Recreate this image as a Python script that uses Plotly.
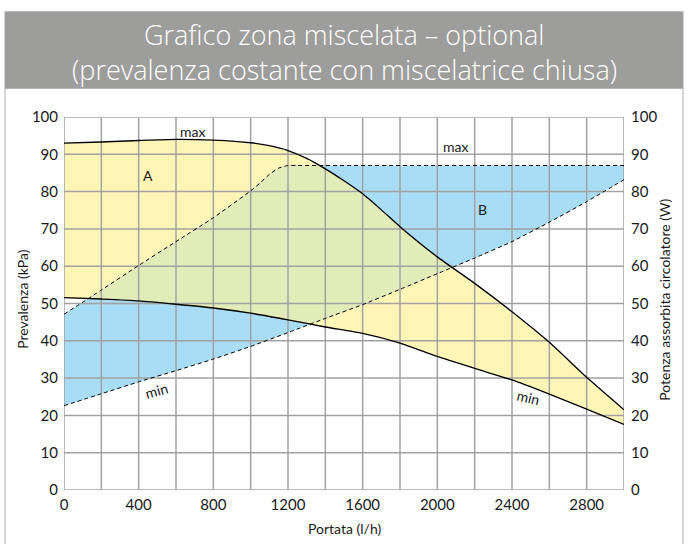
import numpy as np
import plotly.graph_objects as go

# Flow rate (l/h) and curves read on the pump chart
flow_max_head = [0, 200, 400, 600, 800, 1000, 1100, 1200, 1300, 1400, 1500, 1600, 1700, 1800,
                 2000, 2200, 2400, 2600, 2800, 3000]
max_head = [93.0, 93.3, 93.7, 94.0, 93.8, 93.1, 92.3, 91.0, 88.9, 86.1, 82.9, 79.4, 75.1, 70.6,
            62.5, 55.4, 47.8, 39.6, 30.2, 21.5]

flow_min_head = [0, 200, 400, 600, 800, 1000, 1200, 1400, 1600, 1800, 2000, 2200, 2400, 2600,
                 2800, 3000]
min_head = [51.6, 51.2, 50.7, 49.8, 48.8, 47.4, 45.6, 43.7, 42.0, 39.4, 35.8, 32.6, 29.5, 25.7,
            21.7, 17.6]

flow_max_power = [0, 200, 400, 600, 800, 1000, 1050, 1100, 1150, 1200, 1250, 3000]
max_power = [47.1, 53.6, 60.2, 66.6, 73.0, 80.2, 82.3, 84.6, 86.3, 87.0, 87.0, 87.0]

flow_min_power = [0, 200, 400, 600, 800, 1000, 1200, 1400, 1600, 1800, 2000, 2200, 2400, 2600,
                  2800, 3000]
min_power = [22.6, 25.8, 29.0, 32.0, 35.1, 38.5, 42.2, 46.0, 49.7, 53.8, 58.0, 62.2, 66.6, 71.8,
             77.3, 83.2]

x_ticks = [0, 400, 800, 1200, 1600, 2000, 2400, 2800]
x_grid = list(range(0, 3001, 200))
y_ticks = list(range(0, 101, 10))

YELLOW = "#FFF5B6"
BLUE = "#A9DDF6"
GREEN = "#E2ECB8"
GRID = "#A2A2A2"
FONT = "Lato"

curves = [(flow_max_head, max_head), (flow_min_head, min_head),
          (flow_max_power, max_power), (flow_min_power, min_power)]

# common abscissa: every vertex of every curve plus the points where two curves cross
grid = np.unique(np.concatenate([np.asarray(c[0], float) for c in curves]))
vals = [np.interp(grid, c[0], c[1]) for c in curves]
extra = []
for i in range(len(vals)):
    for j in range(i + 1, len(vals)):
        d = vals[i] - vals[j]
        for k in range(len(grid) - 1):
            if d[k] * d[k + 1] < 0:
                t = d[k] / (d[k] - d[k + 1])
                extra.append(grid[k] + t * (grid[k + 1] - grid[k]))
grid = np.unique(np.concatenate([grid, extra]))
hmax, hmin, pmax, pmin = [np.interp(grid, c[0], c[1]) for c in curves]

upper = np.minimum(hmax, pmax)
lower = np.maximum(hmin, pmin)
upper = np.maximum(upper, lower)


def band(lo, hi, color):
    return go.Scatter(x=np.concatenate([grid, grid[::-1]]),
                      y=np.concatenate([hi, lo[::-1]]),
                      fill="toself", fillcolor=color, mode="lines",
                      line=dict(width=0, color=color), hoverinfo="skip",
                      showlegend=False)


fig = go.Figure()
fig.add_trace(band(hmin, hmax, YELLOW))
fig.add_trace(band(pmin, pmax, BLUE))
fig.add_trace(band(lower, upper, GREEN))

# grid drawn over the coloured zones
gx, gy = [], []
for v in x_grid:
    gx += [v, v, None]
    gy += [0, 100, None]
for v in y_ticks:
    gx += [0, 3000, None]
    gy += [v, v, None]
fig.add_trace(go.Scatter(x=gx, y=gy, mode="lines", line=dict(color=GRID, width=1.5),
                         hoverinfo="skip", showlegend=False))

solid = dict(color="black", width=1.3, shape="spline", smoothing=0.6)
dashed = dict(color="black", width=1, dash="4px,3px", shape="spline", smoothing=0.5)
# head curves (kPa)
fig.add_trace(go.Scatter(x=flow_max_head, y=max_head, mode="lines", line=solid,
                         showlegend=False))
fig.add_trace(go.Scatter(x=flow_min_head, y=min_head, mode="lines", line=solid,
                         showlegend=False))
# absorbed power curves (W)
fig.add_trace(go.Scatter(x=flow_max_power, y=max_power, mode="lines", yaxis="y2",
                         line=dashed, showlegend=False))
fig.add_trace(go.Scatter(x=flow_min_power, y=min_power, mode="lines", yaxis="y2",
                         line=dashed, showlegend=False))

tickfont = dict(family=FONT, size=15, color="#1a1a1a")
fig.update_layout(
    width=688, height=544,
    margin=dict(l=64, r=64, t=117, b=54),
    paper_bgcolor="white", plot_bgcolor="white",
    xaxis=dict(range=[0, 3000], tickvals=x_ticks, showgrid=False, zeroline=False,
               showline=False, ticks="", tickfont=tickfont, ticklabelstandoff=4),
    yaxis=dict(range=[0, 100], tickvals=y_ticks, showgrid=False, zeroline=False,
               showline=False, ticks="", tickfont=tickfont, ticklabelstandoff=5),
    yaxis2=dict(range=[0, 100], tickvals=y_ticks, overlaying="y", side="right",
                showgrid=False, zeroline=False, showline=False, ticks="",
                tickfont=tickfont, ticklabelstandoff=6),
)

# frame and title band
fig.add_shape(type="rect", xref="paper", yref="paper", x0=-0.1054, x1=1.1054,
              y0=-0.16, y1=1.2825, line=dict(color="#C9C9C9", width=1.5),
              fillcolor="rgba(0,0,0,0)", layer="below")
fig.add_shape(type="rect", xref="paper", yref="paper", x0=-0.1054, x1=1.1054,
              y0=1.0759, y1=1.2825, line=dict(width=0), fillcolor="#9D9D9C",
              layer="below")

title_font = dict(family="Open Sans", size=27, color="white", weight=300)
fig.add_annotation(text="Grafico zona miscelata – optional", xref="paper", yref="paper",
                   x=0.5, y=1.2208, showarrow=False, font=title_font,
                   xanchor="center", yanchor="middle")
fig.add_annotation(text="(prevalenza costante con miscelatrice chiusa)", xref="paper",
                   yref="paper", x=0.5, y=1.1269, showarrow=False, font=title_font,
                   xanchor="center", yanchor="middle")

axis_font = dict(family=FONT, size=14, color="#1a1a1a")
fig.add_annotation(text="Portata (l/h)", xref="paper", yref="paper", x=0.5, y=-0.102,
                   showarrow=False, font=axis_font, xanchor="center", yanchor="middle")
fig.add_annotation(text="Prevalenza (kPa)", xref="paper", yref="paper", x=-0.0732, y=0.51,
                   showarrow=False, font=axis_font, textangle=-90,
                   xanchor="center", yanchor="middle")
fig.add_annotation(text="Potenza assorbita circolatore (W)", xref="paper", yref="paper",
                   x=1.0732, y=0.51, showarrow=False, font=axis_font, textangle=-90,
                   xanchor="center", yanchor="middle")

# zone and curve labels
label_font = dict(family=FONT, size=14, color="#1a1a1a")
for txt, lx, ly, ang in [("max", 691, 96.1, 0), ("max", 2095, 92.1, 0),
                         ("A", 452, 84.2, 0), ("B", 2243, 75.1, 0),
                         ("min", 497, 26.8, -16), ("min", 2491, 24.9, 13)]:
    fig.add_annotation(text=txt, x=lx, y=ly, showarrow=False, font=label_font,
                       textangle=ang, xanchor="center", yanchor="middle")

fig.write_html("out.html")
